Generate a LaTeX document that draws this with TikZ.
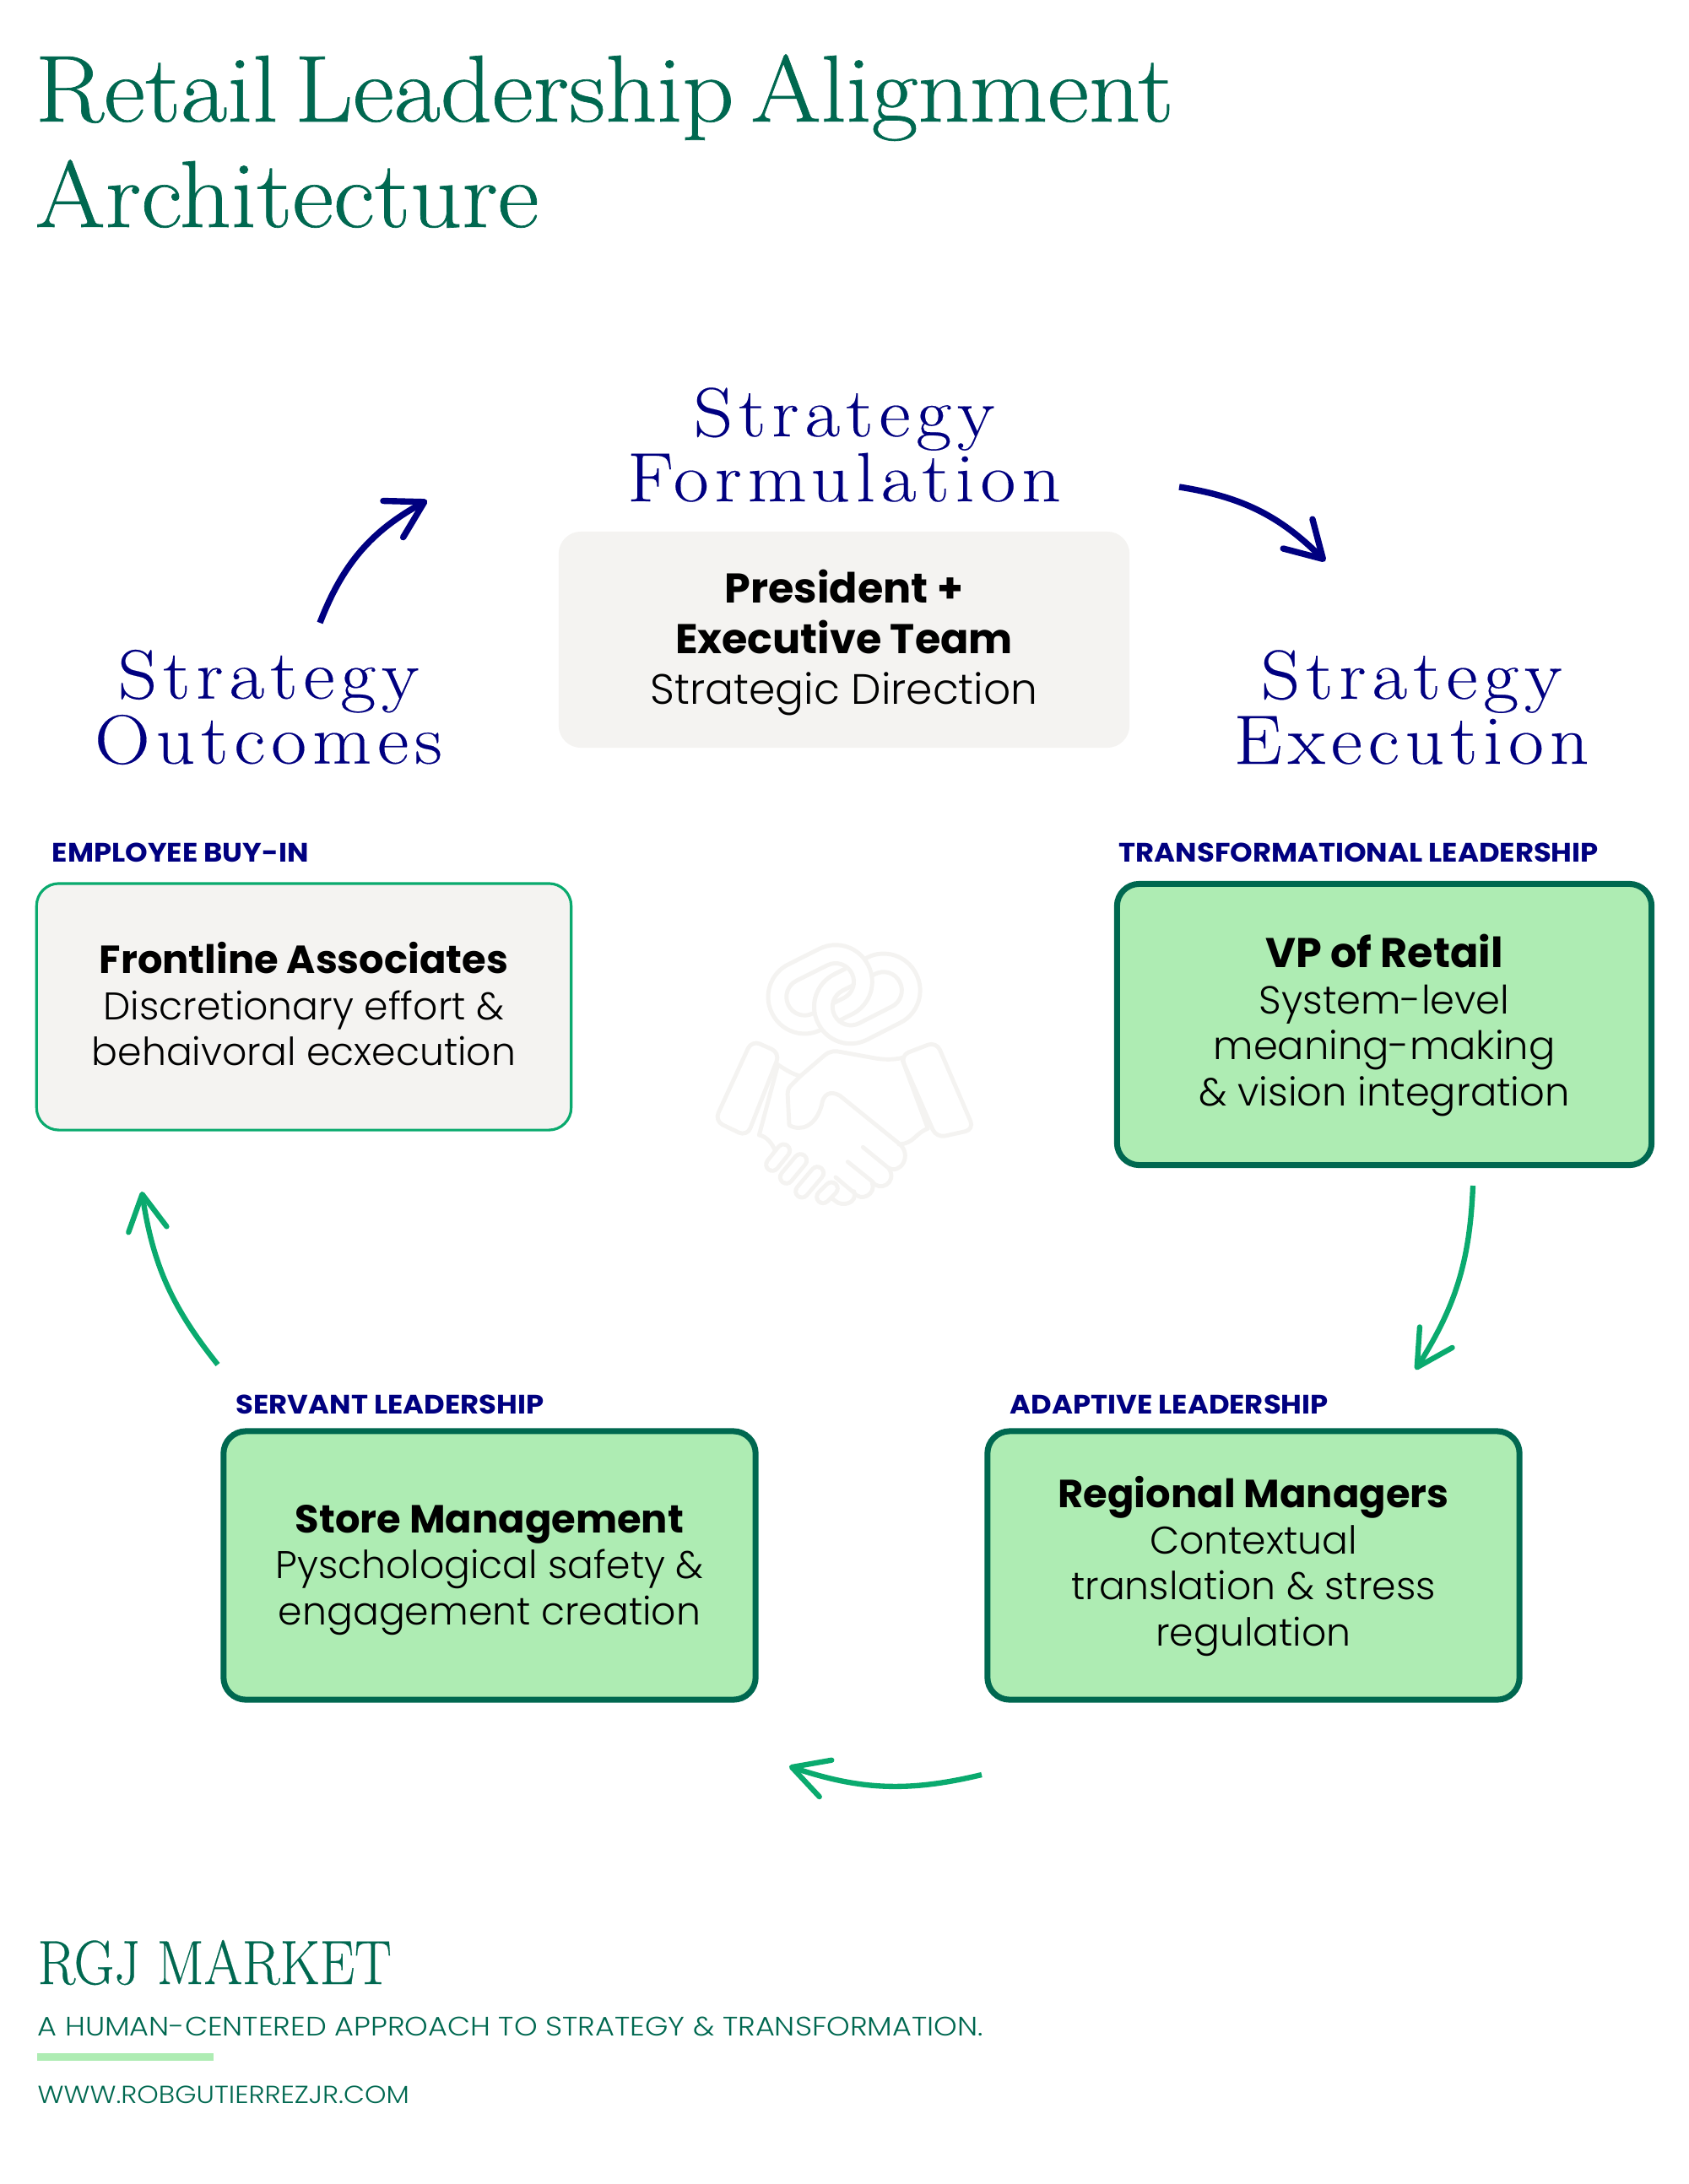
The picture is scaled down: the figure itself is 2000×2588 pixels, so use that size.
\documentclass[tikz,border=0pt]{standalone}
\usepackage{fontspec}
\usepackage{xcolor}
\usetikzlibrary{arrows.meta}
\setsansfont{Poppins}
\newfontfamily\lightfont{Poppins Light}
\newfontfamily\displayfont{lmroman17-regular}[Extension=.otf]
\newfontfamily\headlinefont{lmroman17-regular}[Extension=.otf, FakeStretch=1.065, FakeBold=0.6, WordSpace=0.55]
\definecolor{brandgreen}{RGB}{0, 104, 80}
\definecolor{deepnavy}{RGB}{0, 0, 128}
\definecolor{mintfill}{RGB}{174, 236, 179}
\definecolor{softgrey}{RGB}{244, 243, 241}
\definecolor{arrowgreen}{RGB}{10, 170, 110}
\newcommand{\cardhead}[1]{{\sffamily\bfseries\fontsize{13.2}{15.5}\selectfont #1}}
\newcommand{\bigcardhead}[1]{{\sffamily\bfseries\fontsize{14}{17}\selectfont #1}}
\newcommand{\tightlines}{\setlength{\lineskiplimit}{-100pt}}
\newcommand{\topgap}[1]{\rule{0pt}{#1}}

\begin{document}
\begin{tikzpicture}[
    x=0.01cm, y=-0.01cm,
    headline/.style={text=brandgreen, anchor=base west, inner sep=0pt,
        font=\headlinefont\fontsize{32}{32}\selectfont},
    stagetitle/.style={text=deepnavy, align=center, inner sep=0pt,
        font=\tightlines\displayfont\fontsize{23.5}{21.9}\selectfont\addfontfeature{FakeStretch=1.1, LetterSpace=8.5, FakeBold=0.2}},
    tagtext/.style={text=deepnavy, anchor=west, inner sep=0pt,
        font=\sffamily\bfseries\fontsize{9}{11}\selectfont\addfontfeature{FakeStretch=1.07}},
    card/.style={rounded corners=7.5pt, minimum width=6.3cm, minimum height=3.18cm,
        align=center, inner sep=0pt, outer sep=0pt, text=black,
        font=\lightfont\fontsize{13}{15.5}\selectfont},
    greycard/.style={card, fill=softgrey},
    greencard/.style={card, fill=mintfill, draw=brandgreen, line width=2pt},
    sweep/.style={bend left=#1},
    navysweep/.style={sweep=#1, deepnavy, line width=2.1pt, -{Straight Barb[length=12pt, width=14pt, round]}},
    greensweep/.style={sweep=#1, arrowgreen, line width=1.8pt, -{Straight Barb[length=12pt, width=13pt, round]}},
    iconline/.style={softgrey, line width=1.4pt, line cap=round, line join=round},
    footline/.style={text=brandgreen, anchor=base west, inner sep=0pt}
]

    \useasboundingbox (0,0) rectangle (2000,2588);

    % ==========================================
    % COORDINATES
    % ==========================================
    % Loop arrows, navy
    \coordinate (out_start) at (379,738);
    \coordinate (out_end)   at (506,593);
    \coordinate (form_start) at (1397,577);
    \coordinate (form_end)   at (1570,665);

    % Loop arrows, green
    \coordinate (vp_start) at (1745,1405);
    \coordinate (vp_end)   at (1677,1623);
    \coordinate (reg_start) at (1163,2103);
    \coordinate (reg_end)   at (935,2093);
    \coordinate (store_start) at (258,1617);
    \coordinate (store_end)   at (168,1412);

    % ==========================================
    % TITLE
    % ==========================================
    \node[headline] (title_top) at (41,144) {Retail Leadership Alignment};
    \node[headline] (title_bot) at (41,269) {Architecture};

    % ==========================================
    % STAGE TITLES
    % ==========================================
    \node[stagetitle] (stage_form) at (1000,527) {Strategy\\Formulation};
    \node[stagetitle] (stage_out)  at (318,838)  {Strategy\\Outcomes};
    \node[stagetitle] (stage_exec) at (1672,838) {Strategy\\Execution};

    % ==========================================
    % ICON (handshake + chain, very faint)
    % ==========================================
    \begin{scope}[shift={(890,1100)}, scale=1/3, iconline]
        \draw[fill=white, even odd rule, rotate around={27:(412,250)}]
            [rounded corners=12.2pt] (412-65-130,250-130) rectangle (412+65+130,250+130)
            {[rounded corners=6.1pt] (412-65-65,250-65) rectangle (412+65+65,250+65)};
        \draw[fill=white, even odd rule, rotate around={26.6:(245,217)}]
            [rounded corners=12.2pt] (245-61-130,217-130) rectangle (245+61+130,217+130)
            {[rounded corners=6.1pt] (245-61-65,217-65) rectangle (245+61+65,217+65)};
        \begin{scope}
            \clip (100,100) rectangle (340,450);
            \draw[fill=white, even odd rule, rotate around={27:(412,250)}]
                [rounded corners=12.2pt] (412-65-130,250-130) rectangle (412+65+130,250+130)
                {[rounded corners=6.1pt] (412-65-65,250-65) rectangle (412+65+65,250+65)};
        \end{scope}
    \end{scope}
    \begin{scope}[shift={(820,1080)}, scale=1/3, iconline]
        % cuffs
        \draw[rounded corners=3pt] (212,458) -- (312,503) -- (195,800) -- (80,745) -- cycle;
        \draw[rounded corners=3pt] (740,512) -- (868,463) -- (1002,775) -- (868,805) -- cycle;
        % left arm
        \draw (305,545) .. controls (335,565) and (360,580) .. (385,585);
        \draw (305,545) -- (238,795) .. controls (265,800) and (285,825) .. (297,855);
        % upper hand and thumb
        \draw (385,585) -- (470,512) .. controls (490,495) and (510,495) .. (530,500)
            -- (640,520) .. controls (680,528) and (715,528) .. (748,520);
        \draw (385,585) -- (350,620) .. controls (340,630) and (338,645) .. (340,660)
            -- (345,760) .. controls (390,785) and (440,760) .. (460,690)
            .. controls (465,650) and (490,635) .. (525,655) -- (735,825);
        \draw (748,530) -- (838,772) .. controls (790,790) and (790,825) .. (735,828);
        % fingers
        \draw (735,825) .. controls (785,865) and (740,940) .. (695,910) -- (607,838);
        \draw (700,915) .. controls (730,965) and (665,1000) .. (640,960) -- (553,890);
        \draw (640,965) .. controls (655,1005) and (600,1035) .. (575,1000) -- (510,945);
        \draw (575,995) .. controls (590,1040) and (530,1050) .. (510,1030) -- (470,1000);
        % thumb side capsules
        \foreach \ax/\ay/\bx/\by/\capname in {325/850/285/900/capa, 385/885/335/945/capb,
                445/930/390/995/capc, 495/985/465/1015/capd} {
            \coordinate (\capname_a) at (\ax,\ay);
            \coordinate (\capname_b) at (\bx,\by);
            \draw[line width=5.6pt] (\capname_a) -- (\capname_b);
            \draw[white, line width=2.8pt] (\capname_a) -- (\capname_b);
        }
    \end{scope}

    % ==========================================
    % CARDS
    % ==========================================
    \node[greycard, minimum width=6.76cm, minimum height=2.56cm, font=\lightfont\fontsize{14.3}{17}\selectfont] (president) at (1000,758)
        {\topgap{13.2pt}\bigcardhead{President +}\\\bigcardhead{Executive Team}\\Strategic Direction};

    \node[greycard, minimum width=6.33cm, minimum height=2.92cm, draw=arrowgreen, line width=0.9pt] (frontline) at (360,1193)
        {\cardhead{Frontline Associates}\\Discretionary effort \&\\behaivoral ecxecution\rule[-1.9pt]{0pt}{1pt}};

    \node[greencard, minimum width=6.33cm, minimum height=3.33cm, font=\lightfont\fontsize{13.2}{15.5}\selectfont] (vp_retail) at (1640,1214)
        {\topgap{11.8pt}\bigcardhead{VP of Retail}\\System-level\\meaning-making\\\& vision integration};

    \node[greencard] (regional) at (1485,1855)
        {\topgap{11.2pt}\cardhead{Regional Managers}\\Contextual\\translation \& stress\\regulation};

    \node[greencard] (store_mgmt) at (580,1855)
        {\topgap{12.4pt}\cardhead{Store Management}\\Pyschological safety \&\\engagement creation};

    % ==========================================
    % CARD TAGS
    % ==========================================
    \node[tagtext] (tag_front)  at (61,1010)   {EMPLOYEE BUY-IN};
    \node[tagtext] (tag_vp)     at (1325,1010) {TRANSFORMATIONAL LEADERSHIP};
    \node[tagtext] (tag_store)  at (279,1664)  {SERVANT LEADERSHIP};
    \node[tagtext] (tag_reg)    at (1196,1664) {ADAPTIVE LEADERSHIP};

    % ==========================================
    % ARROWS
    % ==========================================
    \draw[navysweep=20] (out_start) to (out_end);
    \draw[navysweep=18] (form_start) to (form_end);
    \draw[greensweep=15] (vp_start) to (vp_end);
    \draw[greensweep=16] (reg_start) to (reg_end);
    \draw[greensweep=15] (store_start) to (store_end);

    % ==========================================
    % FOOTER
    % ==========================================
    \node[footline, font=\displayfont\fontsize{21}{21}\selectfont\addfontfeature{FakeStretch=0.888, FakeBold=0.4}] (brand) at (44,2351) {RGJ MARKET};
    \node[footline, font=\lightfont\fontsize{9}{11}\selectfont\addfontfeature{FakeStretch=1.11}] (tagline) at (44,2412)
        {A HUMAN-CENTERED APPROACH TO STRATEGY \& TRANSFORMATION.};
    \fill[mintfill] (44,2433) rectangle (253,2442);
    \node[footline, font=\lightfont\fontsize{8.3}{10}\selectfont\addfontfeature{FakeStretch=1.11}] (website) at (44,2492) {WWW.ROBGUTIERREZJR.COM};

\end{tikzpicture}
\end{document}
